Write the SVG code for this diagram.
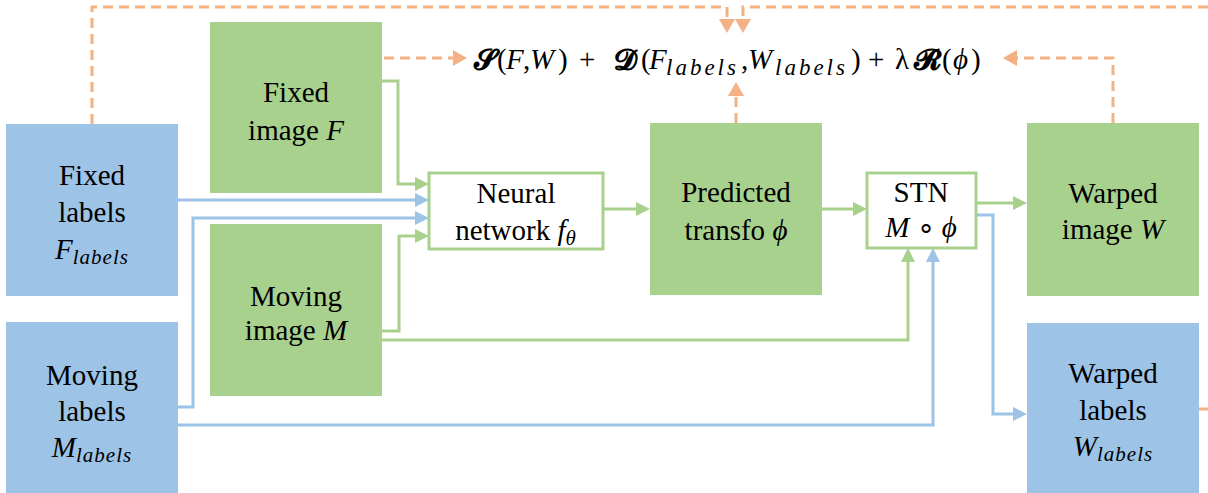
<svg xmlns="http://www.w3.org/2000/svg" width="1208" height="493" viewBox="0 0 1208 493">
  <defs>
    <style>
      .lbl { font-family: "Liberation Serif", "Times New Roman", serif; font-size: 29px; fill: #000; text-anchor: middle; }
      .it { font-style: italic; }
      .sub { font-style: italic; font-size: 21px; letter-spacing: 1px; }
      .green { fill: #A9D18E; }
      .blue { fill: #9DC3E6; }
      .box { fill: #FFFFFF; stroke: #A9D18E; stroke-width: 3; }
      .cg { fill: none; stroke: #A9D18E; stroke-width: 3; marker-end: url(#ag); }
      .cb { fill: none; stroke: #9DC3E6; stroke-width: 3; marker-end: url(#ab); }
      .co { fill: none; stroke: #F4B183; stroke-width: 3; stroke-dasharray: 10 6; }
      .coa { marker-end: url(#ao); }
      .math { font-family: "Liberation Serif", "DejaVu Serif", serif; font-size: 29px; fill: #000; }
      .msub { font-style: italic; font-size: 23px; letter-spacing: 3px; }
      .bs { font-weight: bold; }
    </style>
    <marker id="ag" viewBox="0 0 14 14" refX="8" refY="7" markerWidth="14" markerHeight="14" markerUnits="userSpaceOnUse" orient="auto">
      <path d="M0,0 L14,7 L0,14 z" fill="#A9D18E"/>
    </marker>
    <marker id="ab" viewBox="0 0 14 14" refX="8" refY="7" markerWidth="14" markerHeight="14" markerUnits="userSpaceOnUse" orient="auto">
      <path d="M0,0 L14,7 L0,14 z" fill="#9DC3E6"/>
    </marker>
    <marker id="ao" viewBox="0 0 14 16" refX="8" refY="8" markerWidth="14" markerHeight="16" markerUnits="userSpaceOnUse" orient="auto">
      <path d="M0,0 L14,8 L0,16 z" fill="#F4B183"/>
    </marker>
  </defs>

  <!-- connectors -->
  <g id="connectors">
    <!-- loss feedback (dashed) -->
    <path class="co coa" d="M92,124 V7 H727 V27"/>
    <path class="co coa" d="M1208,7 H743 V27"/>
    <path class="co coa" d="M384,58 H461"/>
    <path class="co coa" d="M736,123 V88"/>
    <path class="co coa" d="M1113,123 V58 H1009"/>
    <path class="co" d="M1199,409 H1208"/>
    <!-- image flow -->
    <path class="cg" d="M382,81 H398 V184 H423"/>
    <path class="cg" d="M382,331 H399 V236 H423"/>
    <path class="cg" d="M382,340 H908 V254"/>
    <path class="cg" d="M603,209 H644"/>
    <path class="cg" d="M822,209 H861"/>
    <path class="cg" d="M976,203 H1021"/>
    <!-- label flow -->
    <path class="cb" d="M178,200 H423"/>
    <path class="cb" d="M178,407 H193 V218 H423"/>
    <path class="cb" d="M178,425 H933 V254"/>
    <path class="cb" d="M976,215 H993 V414 H1021"/>
  </g>

  <!-- loss expression -->
  <g id="loss">
    <text class="math" y="69"><tspan x="474" class="bs">𝓢</tspan><tspan x="497">(</tspan><tspan x="506" class="it">F</tspan><tspan x="523">,</tspan><tspan x="530" class="it">W</tspan><tspan x="558">)</tspan><tspan x="579">+</tspan><tspan x="614" class="bs">𝓓</tspan><tspan x="641">(</tspan><tspan x="649" class="it">F</tspan><tspan x="666" class="msub" dy="6">labels</tspan><tspan x="741" dy="-6">,</tspan><tspan x="748" class="it">W</tspan><tspan x="775" class="msub" dy="6">labels</tspan><tspan x="851" dy="-6">)</tspan><tspan x="868">+</tspan><tspan x="895">λ</tspan><tspan x="914" class="bs">𝓡</tspan><tspan x="942">(</tspan><tspan x="953" class="it">ϕ</tspan><tspan x="971">)</tspan></text>
  </g>

  <g id="fixed-labels">
    <rect class="blue" x="6" y="124" width="172" height="172"/>
    <text class="lbl" x="92" y="185">Fixed</text>
    <text class="lbl" x="92" y="222">labels</text>
    <text class="lbl" x="92" y="259"><tspan class="it">F</tspan><tspan class="sub" dy="5">labels</tspan></text>
  </g>

  <g id="moving-labels">
    <rect class="blue" x="6" y="322" width="172" height="172"/>
    <text class="lbl" x="92" y="385">Moving</text>
    <text class="lbl" x="92" y="421">labels</text>
    <text class="lbl" x="92" y="457"><tspan class="it">M</tspan><tspan class="sub" dy="5">labels</tspan></text>
  </g>

  <g id="fixed-image">
    <rect class="green" x="210" y="22" width="172" height="171"/>
    <text class="lbl" x="296" y="102">Fixed</text>
    <text class="lbl" x="296" y="140">image <tspan class="it">F</tspan></text>
  </g>

  <g id="moving-image">
    <rect class="green" x="210" y="224" width="172" height="172"/>
    <text class="lbl" x="296" y="306">Moving</text>
    <text class="lbl" x="296" y="340">image <tspan class="it">M</tspan></text>
  </g>

  <g id="neural-network">
    <rect class="box" x="429" y="173" width="174" height="76"/>
    <text class="lbl" x="516" y="203">Neural</text>
    <text class="lbl" x="516" y="240">network <tspan class="it">f</tspan><tspan class="sub" dy="5">θ</tspan></text>
  </g>

  <g id="predicted-transfo">
    <rect class="green" x="650" y="123" width="172" height="172"/>
    <text class="lbl" x="736" y="202">Predicted</text>
    <text class="lbl" x="736" y="240">transfo <tspan class="it">ϕ</tspan></text>
  </g>

  <g id="stn">
    <rect class="box" x="867" y="173" width="109" height="75"/>
    <text class="lbl" x="921" y="202">STN</text>
    <text class="lbl" x="921" y="237"><tspan class="it">M</tspan> ∘ <tspan class="it">ϕ</tspan></text>
  </g>

  <g id="warped-image">
    <rect class="green" x="1027" y="123" width="172" height="173"/>
    <text class="lbl" x="1113" y="203">Warped</text>
    <text class="lbl" x="1113" y="239">image <tspan class="it">W</tspan></text>
  </g>

  <g id="warped-labels">
    <rect class="blue" x="1027" y="323" width="172" height="171"/>
    <text class="lbl" x="1113" y="383">Warped</text>
    <text class="lbl" x="1113" y="420">labels</text>
    <text class="lbl" x="1113" y="456"><tspan class="it">W</tspan><tspan class="sub" dy="5">labels</tspan></text>
  </g>
</svg>
